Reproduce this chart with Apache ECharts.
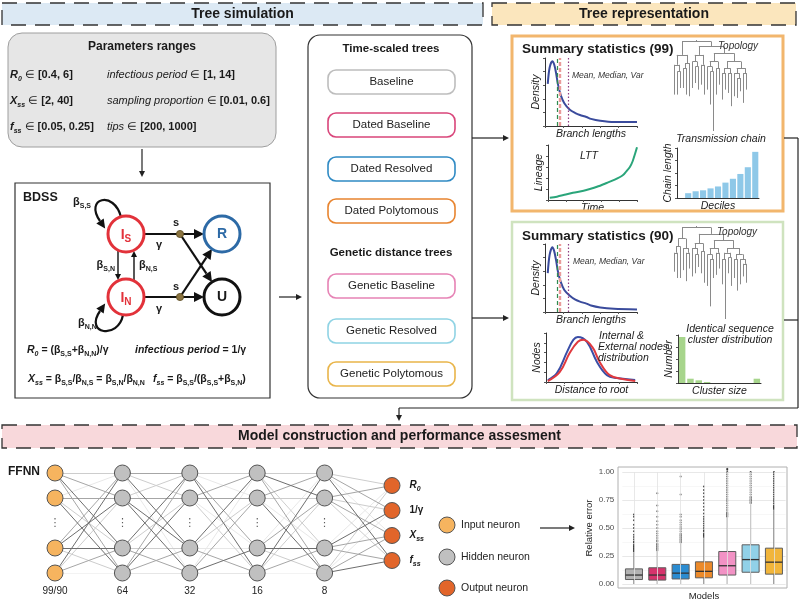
<!DOCTYPE html>
<html><head><meta charset="utf-8">
<script src="https://cdn.jsdelivr.net/npm/echarts@6/dist/echarts.min.js"></script>
<style>html,body{margin:0;padding:0;background:#fff}#c{width:800px;height:602px}</style>
</head><body><div id="c"></div>
<script>
// ================= DATA =================
const headerTitles = ['Tree simulation', 'Tree representation', 'Model construction and performance assesment'];
const paramRangesLeft = [['R', '0', '[0.4, 6]'], ['X', 'ss', '[2, 40]'], ['f', 'ss', '[0.05, 0.25]']];
const paramRangesRight = [['infectious period', '[1, 14]'], ['sampling proportion', '[0.01, 0.6]'], ['tips', '[200, 1000]']];
const timeScaledTrees = ['Baseline', 'Dated Baseline', 'Dated Resolved', 'Dated Polytomous'];
const geneticTrees = ['Genetic Baseline', 'Genetic Resolved', 'Genetic Polytomous'];

const branchLengthDensity99 = [[3,65],[5,90],[8,100],[10,95],[12,82],[14,65],[17,48],[21,35],[27,25],[33,20],[38,17],[45,14],[50,11],[60,8],[75,6],[100,6]];
const branchLengthDensity90 = [[3,60],[5,88],[8,100],[10,94],[12,80],[14,63],[17,47],[21,34],[27,25],[33,19],[38,16],[45,13],[50,10],[60,7],[75,5],[100,4]];
const branchStatMarkers = [13, 16, 25];
const lttCurve = [[2,4],[10,6],[20,10],[28,13],[40,17],[47,20],[55,24],[66,31],[75,37],[84,45],[88,52],[92,60],[95,70],[98,85],[100,96]];
const chainDeciles = ['0','1','2','3','4','5','6','7','8','9','10'];
const chainLength = [0, 5, 7, 8, 10, 12, 16, 20, 25, 32, 48];
const internalNodesDist = [[2,4],[12,18],[23,61],[30,86],[35,92],[45,82],[56,41],[67,14],[78,8],[98,4]];
const externalNodesDist = [[2,2],[15,20],[26,59],[35,82],[41,86],[51,71],[59,41],[70,14],[84,6],[98,2]];
const clusterSizes = ['1','2','3','4','5','6','7','8','9','10'];
const clusterCounts = [46, 4.3, 2.7, 1, 0, 0, 0, 0, 0, 4.3];
const topology99 = [1,
  [8, [6, 18, [4, 14, 10]], [5, [3, 12, 16], 20]],
  [3,
    [5, [4, 16, [3, 10, 14]], [6, 12, 18]],
    [4,
      [5, [3, 14, [3, 20, 36]], [4, 16, 10]],
      [5,
        [4, [3, 16, 10], [3, 12, 20]],
        [4, [3, 14, [3, 12, 8]], [3, 18, 10]]]]]];
const topology90 = [1,
  [7, [5, [4, 12, 16], 20], [6, 14, [3, 18, 10]]],
  [4,
    [6, [3, 18, [4, 12, 8]], [5, 14, 20]],
    [4,
      [5, [4, 20, [3, 30, 12]], [3, 14, 10]],
      [5,
        [3, [4, 16, 38], [3, 10, 18]],
        [4, [3, 12, 20], [3, 16, [3, 8, 12]]]]]]];

const nnLayerSizes = ['99/90', '64', '32', '16', '8'];
const nnHiddenRows = [0, 1, 3, 4];
const nnOutputRows = [0.5, 1.5, 2.5, 3.5];
const nnOutputs = ['R0', '1/γ', 'Xss', 'fss'];
const nnEdgeShades = ['1232021323313120', '2130123331122321', '1023220131020231', '1312210302313120', '1203212103221023'];
const legendItems = ['Input neuron', 'Hidden neuron', 'Output neuron'];

const modelNames = ['Baseline', 'Dated Baseline', 'Dated Resolved', 'Dated Polytomous', 'Genetic Baseline', 'Genetic Resolved', 'Genetic Polytomous'];
const boxStats = [
  [0, 0.04, 0.08, 0.135, 0.28],
  [0, 0.035, 0.08, 0.145, 0.29],
  [0, 0.045, 0.097, 0.175, 0.36],
  [0, 0.055, 0.113, 0.198, 0.41],
  [0, 0.08, 0.163, 0.29, 0.59],
  [0, 0.105, 0.218, 0.35, 0.71],
  [0, 0.088, 0.195, 0.32, 0.66]
];
const boxOutliers = [
  [0.29,0.3,0.31,0.32,0.33,0.34,0.35,0.37,0.38,0.4,0.42,0.44,0.47,0.5,0.53,0.57,0.6,0.62],
  [0.3,0.31,0.32,0.33,0.34,0.35,0.36,0.38,0.39,0.41,0.43,0.45,0.47,0.5,0.53,0.56,0.6,0.65,0.7,0.81],
  [0.37,0.38,0.39,0.4,0.41,0.42,0.43,0.44,0.45,0.47,0.49,0.51,0.53,0.55,0.57,0.6,0.62,0.8,0.96],
  [0.42,0.43,0.44,0.45,0.47,0.48,0.5,0.52,0.54,0.56,0.58,0.6,0.63,0.66,0.69,0.72,0.75,0.78,0.81,0.84,0.87],
  [0.6,0.61,0.62,0.63,0.64,0.66,0.68,0.7,0.72,0.74,0.76,0.78,0.8,0.82,0.84,0.86,0.88,0.9,0.92,0.94,0.96,0.98,1.0,1.02,1.03],
  [0.72,0.73,0.74,0.75,0.76,0.77,0.78,0.8,0.82,0.84,0.86,0.88,0.9,0.92,0.94,0.96,0.98,1.0],
  [0.67,0.68,0.69,0.7,0.72,0.74,0.76,0.78,0.8,0.82,0.84,0.86,0.88,0.9,0.92,0.94,0.96,0.98,1.0]
];

// ================= STYLE =================
const FF = '"Liberation Sans", Arial, Helvetica, sans-serif';
const TXT = '#1a1a1a';
const treeBoxColors = ['#bdbdbd', '#d9457a', '#2f8ac4', '#e8842f', '#e683b5', '#8fd3e4', '#e9b54a'];
const boxFill = ['#b3b3b3', '#d6336c', '#2b8cd1', '#ec8a2a', '#f292c5', '#91d1e8', '#f1b53b'];
const nnColors = { input: '#f6b45f', hidden: '#c0c0c0', output: '#e2652a' };
const shadeColors = ['#e8e8e8', '#cdcdcd', '#a6a6a6', '#6e6e6e'];

function rich(size, color) {
  color = color || TXT;
  const base = { fontFamily: FF, fontSize: size, color: color, fill: color, lineHeight: size + 4 };
  const sub = { fontFamily: FF, fontSize: Math.round(size * 0.68), color: color, fill: color, fontWeight: 'bold', verticalAlign: 'bottom', lineHeight: Math.round(size * 0.55) };
  return {
    n: Object.assign({}, base),
    b: Object.assign({}, base, { fontWeight: 'bold' }),
    i: Object.assign({}, base, { fontStyle: 'italic' }),
    bi: Object.assign({}, base, { fontWeight: 'bold', fontStyle: 'italic' }),
    s: sub,
    si: Object.assign({}, sub, { fontStyle: 'italic' })
  };
}

const G = [];
function txt(x, y, text, o) {
  o = o || {};
  G.push({ type: 'text', x: x, y: y, rotation: o.rot || 0, silent: true, z: 20,
    style: { text: text, fontFamily: FF, fontSize: o.size || 11, fontWeight: o.weight || 'normal',
      fontStyle: o.style || 'normal', fill: o.color || TXT, align: o.align || 'left',
      verticalAlign: 'middle', rich: o.rich } });
}
function rect(x, y, w, h, o) {
  G.push({ type: 'rect', silent: true, z: o.z || 1, shape: { x: x, y: y, width: w, height: h, r: o.r || 0 },
    style: { fill: o.fill || 'none', stroke: o.stroke || 'none', lineWidth: o.lw || 1, lineDash: o.dash } });
}
function line(x1, y1, x2, y2, color, lw) {
  G.push({ type: 'line', silent: true, z: 5, shape: { x1: x1, y1: y1, x2: x2, y2: y2 }, style: { stroke: color || '#111', lineWidth: lw || 1.2 } });
}
function head(x, y, a, hs, color) {
  const bx = x - hs * Math.cos(a), by = y - hs * Math.sin(a), w = hs * 0.5;
  G.push({ type: 'polygon', silent: true, z: 6, shape: { points: [[x, y], [bx - w * Math.sin(a), by + w * Math.cos(a)], [bx + w * Math.sin(a), by - w * Math.cos(a)]] }, style: { fill: color || '#111' } });
  return [bx, by];
}
function arrow(x1, y1, x2, y2, color, lw, hs) {
  hs = hs || 6;
  const a = Math.atan2(y2 - y1, x2 - x1);
  const b = head(x2, y2, a, hs, color);
  line(x1, y1, b[0], b[1], color, lw);
}
function loopArrow(p0, c1, c2, p1, hs, color, lw) {
  G.push({ type: 'bezierCurve', silent: true, z: 5, shape: { x1: p0[0], y1: p0[1], cpx1: c1[0], cpy1: c1[1], cpx2: c2[0], cpy2: c2[1], x2: p1[0], y2: p1[1] }, style: { stroke: color, lineWidth: lw, fill: 'none' } });
  const a = Math.atan2(p1[1] - c2[1], p1[0] - c2[0]);
  head(p1[0] + hs * Math.cos(a), p1[1] + hs * Math.sin(a), a, hs, color);
}
function circle(cx, cy, r, fill, stroke, lw) {
  G.push({ type: 'circle', silent: true, z: 7, shape: { cx: cx, cy: cy, r: r }, style: { fill: fill, stroke: stroke, lineWidth: lw } });
}

// ---------- headers ----------
const hdr = [[2, 3, 481, 22, '#dce9f4'], [492, 3, 304, 22, '#fbe6bd'], [2, 425, 795, 23, '#f8d8db']];
hdr.forEach(function (h, i) {
  rect(h[0], h[1], h[2], h[3], { fill: h[4], stroke: '#333', lw: 1.3, dash: [15, 9] });
  txt(h[0] + h[2] / 2, h[1] + h[3] / 2, headerTitles[i], { size: 14, weight: 'bold', align: 'center' });
});

// ---------- parameters box ----------
rect(8, 33, 268, 114, { fill: '#e6e6e6', stroke: '#9e9e9e', lw: 1, r: 14 });
txt(142, 47, 'Parameters ranges', { size: 12, weight: 'bold', align: 'center' });
const R11 = rich(11);
paramRangesLeft.forEach(function (p, i) {
  const y = 75 + i * 26;
  txt(10, y, '{bi|' + p[0] + '}{si|' + p[1] + '}{n| ∈ }{b|' + p[2] + '}', { rich: R11 });
  const q = paramRangesRight[i];
  txt(107, y, '{i|' + q[0] + '}{n| ∈ }{b|' + q[1] + '}', { rich: R11 });
});
arrow(142, 149, 142, 177, '#222', 1.2, 6);

// ---------- BDSS box ----------
rect(15, 183, 255, 215, { fill: '#fff', stroke: '#333', lw: 1.2 });
txt(23, 198, 'BDSS', { size: 12.5, weight: 'bold' });
const RED = '#e2323a', BLUE = '#2d6aa6';
arrow(144, 234, 204, 234, '#111', 2.2, 10);
arrow(144, 297, 204, 297, '#111', 2.2, 10);
arrow(180, 234, 212, 282, '#111', 2.2, 10);
arrow(180, 297, 212, 249, '#111', 2.2, 10);
arrow(118, 251, 118, 280, '#111', 1.4, 6);
arrow(134, 280, 134, 251, '#111', 1.4, 6);
loopArrow([121, 217], [114, 190], [84, 198], [100, 221], 9, '#111', 2.2);
loopArrow([123, 315], [118, 340], [84, 334], [100, 311], 9, '#111', 2.2);
circle(126, 234, 18, '#fff', RED, 3);
circle(126, 297, 18, '#fff', RED, 3);
circle(222, 234, 18, '#fff', BLUE, 3);
circle(222, 297, 18, '#fff', '#111', 3);
circle(180, 234, 3.6, '#8b7440', '#5a4a20', 0.8);
circle(180, 297, 3.6, '#8b7440', '#5a4a20', 0.8);
const R14r = rich(14, RED);
txt(126, 235, '{b|I}{s|S}', { rich: R14r, align: 'center' });
txt(126, 298, '{b|I}{s|N}', { rich: R14r, align: 'center' });
txt(222, 234, 'R', { size: 14, weight: 'bold', color: BLUE, align: 'center' });
txt(222, 297, 'U', { size: 14, weight: 'bold', align: 'center' });
txt(176, 223, 's', { size: 11, weight: 'bold', align: 'center' });
txt(176, 287, 's', { size: 11, weight: 'bold', align: 'center' });
txt(159, 245, 'γ', { size: 11, weight: 'bold', align: 'center' });
txt(159, 309, 'γ', { size: 11, weight: 'bold', align: 'center' });
txt(73, 202, '{b|β}{s|S,S}', { rich: R11 });
txt(78, 323, '{b|β}{s|N,N}', { rich: R11 });
txt(115, 265, '{b|β}{s|S,N}', { rich: R11, align: 'right' });
txt(139, 265, '{b|β}{s|N,S}', { rich: R11 });
const R10 = rich(10.5);
txt(27, 350, '{bi|R}{si|0}{b| = (β}{s|S,S}{b|+β}{s|N,N}{b|)/γ}', { rich: R10 });
txt(135, 350, '{bi|infectious period}{b| = 1/γ}', { rich: R10 });
txt(28, 379, '{bi|X}{si|ss}{b| = β}{s|S,S}{b|/β}{s|N,S}{b| = β}{s|S,N}{b|/β}{s|N,N}', { rich: R10 });
txt(153, 379, '{bi|f}{si|ss}{b| = β}{s|S,S}{b|/(β}{s|S,S}{b|+β}{s|S,N}{b|)}', { rich: R10 });
arrow(279, 297, 302, 297, '#222', 1.2, 6);

// ---------- middle box ----------
rect(308, 35, 164, 363, { fill: '#fff', stroke: '#333', lw: 1.2, r: 12 });
txt(391, 49, 'Time-scaled trees', { size: 11.5, weight: 'bold', align: 'center' });
txt(391, 253, 'Genetic distance trees', { size: 11.5, weight: 'bold', align: 'center' });
const treeBoxY = [82, 125, 169, 211, 286, 331, 374];
timeScaledTrees.concat(geneticTrees).forEach(function (name, i) {
  rect(328, treeBoxY[i] - 12, 127, 24, { fill: '#fff', stroke: treeBoxColors[i], lw: 1.6, r: 8, z: 2 });
  txt(391.5, treeBoxY[i], name, { size: 11.5, align: 'center', color: '#222' });
});
arrow(472, 138, 509, 138, '#222', 1.2, 6);
arrow(472, 318, 509, 318, '#222', 1.2, 6);

// ---------- summary boxes ----------
rect(512, 36, 271, 175, { stroke: '#f2b66d', lw: 3 });
rect(512, 222, 271, 178, { stroke: '#cfe3bf', lw: 2.5 });
txt(522, 49, 'Summary statistics (99)', { size: 13.5, weight: 'bold' });
txt(522, 236, 'Summary statistics (90)', { size: 13.5, weight: 'bold' });
txt(572, 76, 'Mean, Median, Var', { size: 8.5, style: 'italic', color: '#333' });
txt(573, 262, 'Mean, Median, Var', { size: 8.5, style: 'italic', color: '#333' });
txt(738, 46, 'Topology', { size: 10, style: 'italic', align: 'center', color: '#333' });
txt(737, 232, 'Topology', { size: 10, style: 'italic', align: 'center', color: '#333' });
txt(721, 139, 'Transmission chain', { size: 10.5, style: 'italic', align: 'center' });
txt(589, 156, 'LTT', { size: 10.5, style: 'italic', align: 'center' });
txt(599, 336, 'Internal &', { size: 10.5, style: 'italic' });
txt(598, 347, 'External nodes', { size: 10.5, style: 'italic' });
txt(598, 358, 'distribution', { size: 10.5, style: 'italic' });
txt(730, 329, 'Identical sequence', { size: 10.5, style: 'italic', align: 'center' });
txt(730, 340, 'cluster distribution', { size: 10.5, style: 'italic', align: 'center' });
line(784, 138, 798, 138, '#222', 1.2);
line(784, 320, 798, 320, '#222', 1.2);
line(798, 138, 798, 408, '#222', 1.2);
line(798, 408, 399, 408, '#222', 1.2);
arrow(399, 408, 399, 421, '#222', 1.2, 6);

// ---------- FFNN / legend ----------
txt(8, 472, 'FFNN', { size: 12, weight: 'bold' });
const legendColors = [nnColors.input, nnColors.hidden, nnColors.output];
legendItems.forEach(function (t, i) {
  const y = [525, 557, 588][i];
  circle(447, y, 8, legendColors[i], '#555', 1);
  txt(461, y, t, { size: 10.5, color: '#222' });
});
arrow(540, 528, 575, 528, '#222', 1.2, 6);
rect(618, 467, 169, 121, { stroke: '#b0b0b0', lw: 1, z: 3 });

// ================= TREE LAYOUT =================
function treeSegments(tree) {
  let leaf = 0, maxD = 0;
  const segs = [];
  function rec(node, pd) {
    const len = Array.isArray(node) ? node[0] : node;
    const d = pd + len;
    maxD = Math.max(maxD, d);
    let x;
    if (!Array.isArray(node)) { x = leaf++; }
    else {
      const xs = node.slice(1).map(function (c) { return rec(c, d); });
      x = (xs[0] + xs[xs.length - 1]) / 2;
      segs.push({ coords: [[xs[0], d], [xs[xs.length - 1], d]] });
    }
    segs.push({ coords: [[x, pd], [x, d]] });
    return x;
  }
  rec(tree, 0);
  return { segs: segs, n: leaf, maxD: maxD };
}
const t99 = treeSegments(topology99), t90 = treeSegments(topology90);

// ================= GRIDS / AXES =================
const grids = [
  { left: 622.3, top: 472, width: 163.3, height: 112 },
  { left: 545, top: 58, width: 92, height: 68 },
  { left: 548, top: 145, width: 89, height: 55 },
  { left: 677, top: 148, width: 82, height: 50 },
  { left: 545, top: 244, width: 92, height: 68 },
  { left: 546, top: 333, width: 91, height: 49 },
  { left: 678, top: 335, width: 83, height: 48 },
  { left: 673, top: 40, width: 75, height: 91 },
  { left: 673, top: 226, width: 75, height: 93 },
  { left: 55, top: 473, width: 337, height: 100 }
].map(function (g) { return Object.assign({ containLabel: false, outerBoundsMode: 'none' }, g); });

const AL = { show: true, lineStyle: { color: '#333', width: 1 } };
const nameStyle = { fontFamily: FF, fontStyle: 'italic', fontSize: 10.5, color: TXT };
function miniX(gi, name, cat) {
  const a = { gridIndex: gi, name: name, nameLocation: 'middle', nameGap: 3, nameTextStyle: nameStyle,
    axisLine: AL, axisLabel: { show: false }, splitLine: { show: false } };
  if (cat) { a.type = 'category'; a.data = cat; a.axisTick = { show: false }; }
  else { a.type = 'value'; a.min = 0; a.max = 100; a.interval = 20; a.axisTick = { show: true, length: 2, lineStyle: { color: '#555' } }; }
  return a;
}
function miniY(gi, name, max, interval) {
  return { type: 'value', gridIndex: gi, min: 0, max: max, interval: interval, name: name, nameLocation: 'middle', nameGap: 3,
    nameTextStyle: nameStyle, axisLine: AL, axisTick: { show: true, length: 2, lineStyle: { color: '#555' } },
    axisLabel: { show: false }, splitLine: { show: false } };
}
const xAxes = [
  { type: 'category', gridIndex: 0, data: modelNames, axisLine: { show: false }, axisTick: { show: false }, axisLabel: { show: false },
    splitLine: { show: false }, name: 'Models', nameLocation: 'middle', nameGap: 7, nameTextStyle: { fontFamily: FF, fontSize: 9.5, color: '#222' } },
  miniX(1, 'Branch lengths'),
  miniX(2, 'Time'),
  miniX(3, 'Deciles', chainDeciles),
  miniX(4, 'Branch lengths'),
  miniX(5, 'Distance to root'),
  miniX(6, 'Cluster size', clusterSizes),
  { type: 'value', gridIndex: 7, min: -0.5, max: t99.n - 0.5, show: false },
  { type: 'value', gridIndex: 8, min: -0.5, max: t90.n - 0.5, show: false },
  { type: 'value', gridIndex: 9, min: 0, max: 5, interval: 1, axisLine: { show: false, onZero: false }, axisTick: { show: false },
    splitLine: { show: false }, axisLabel: { fontFamily: FF, fontSize: 10, color: '#222', margin: 13, formatter: function (v) { return nnLayerSizes[v] || ''; } } }
];
const yAxes = [
  { type: 'value', gridIndex: 0, min: 0, max: 1, interval: 0.25, axisLine: { show: false }, axisTick: { show: false },
    axisLabel: { fontFamily: FF, fontSize: 8, color: '#4d4d4d', margin: 8, formatter: function (v) { return v.toFixed(2); } },
    splitLine: { lineStyle: { color: '#e2e2e2', width: 0.8 } },
    minorTick: { show: false, splitNumber: 2 }, minorSplitLine: { show: true, lineStyle: { color: '#f1f1f1', width: 0.6 } },
    name: 'Relative error', nameLocation: 'middle', nameGap: 28, nameTextStyle: { fontFamily: FF, fontSize: 9.5, color: '#222' } },
  miniY(1, 'Density', 105, 21),
  miniY(2, 'Lineage', 100, 20),
  miniY(3, 'Chain length', 52, 13),
  miniY(4, 'Density', 105, 21),
  miniY(5, 'Nodes', 100, 20),
  miniY(6, 'Number', 48, 12),
  { type: 'value', gridIndex: 7, min: 0, max: t99.maxD, inverse: true, show: false },
  { type: 'value', gridIndex: 8, min: 0, max: t90.maxD, inverse: true, show: false },
  { type: 'value', gridIndex: 9, min: 0, max: 4, inverse: true, show: false }
];

// ================= SERIES =================
const series = [];
series.push({ type: 'scatter', xAxisIndex: 0, yAxisIndex: 0, clip: false, z: 2, symbolSize: 2, silent: true,
  itemStyle: { color: '#222' },
  data: boxOutliers.reduce(function (acc, arr, i) { return acc.concat(arr.map(function (v) { return [i, v]; })); }, []),
  markLine: { silent: true, symbol: 'none', label: { show: false }, animation: false,
    lineStyle: { color: '#e2e2e2', type: 'solid', width: 0.8 }, data: modelNames.map(function (n) { return { xAxis: n }; }) } });
series.push({ type: 'custom', xAxisIndex: 0, yAxisIndex: 0, z: 3, silent: true,
  encode: { x: 0, y: [1, 2, 3, 4, 5] },
  data: boxStats.map(function (s, i) { return [i].concat(s); }),
  renderItem: function (params, api) {
    const i = api.value(0);
    const cx = api.coord([i, 0])[0];
    const y = [1, 2, 3, 4, 5].map(function (k) { return api.coord([i, api.value(k)])[1]; });
    const w = api.size([1, 0])[0] * 0.73;
    const st = { stroke: '#5e5e5e', lineWidth: 1 };
    return { type: 'group', children: [
      { type: 'line', shape: { x1: cx, y1: y[3], x2: cx, y2: y[4] }, style: st },
      { type: 'line', shape: { x1: cx, y1: y[1], x2: cx, y2: y[0] }, style: st },
      { type: 'rect', shape: { x: cx - w / 2, y: y[3], width: w, height: y[1] - y[3] }, style: { fill: boxFill[params.dataIndex], stroke: '#5e5e5e', lineWidth: 1 } },
      { type: 'line', shape: { x1: cx - w / 2, y1: y[2], x2: cx + w / 2, y2: y[2] }, style: { stroke: '#333', lineWidth: 1.3 } }
    ] };
  } });

function densitySeries(gi, data) {
  return { type: 'line', xAxisIndex: gi, yAxisIndex: gi, data: data, smooth: 0.3, showSymbol: false, silent: true,
    lineStyle: { color: '#3a4b9c', width: 2 },
    markLine: { silent: true, symbol: 'none', label: { show: false }, animation: false, data: [
      { xAxis: branchStatMarkers[0], lineStyle: { color: '#2e8b4e', type: [4, 3], width: 1.2 } },
      { xAxis: branchStatMarkers[1], lineStyle: { color: '#e99a9a', type: [4, 2], width: 2.4 } },
      { xAxis: branchStatMarkers[2], lineStyle: { color: '#8e3d80', type: [1.5, 2], width: 1.2 } }] } };
}
series.push(densitySeries(1, branchLengthDensity99));
series.push(densitySeries(4, branchLengthDensity90));
series.push({ type: 'line', xAxisIndex: 2, yAxisIndex: 2, data: lttCurve, smooth: 0.3, showSymbol: false, silent: true, lineStyle: { color: '#2aa57a', width: 2 } });
series.push({ type: 'bar', xAxisIndex: 3, yAxisIndex: 3, data: chainLength, barCategoryGap: '18%', silent: true, itemStyle: { color: '#8ec8e8' } });
series.push({ type: 'line', xAxisIndex: 5, yAxisIndex: 5, data: internalNodesDist, smooth: 0.4, showSymbol: false, silent: true, lineStyle: { color: '#3a4ea6', width: 2 } });
series.push({ type: 'line', xAxisIndex: 5, yAxisIndex: 5, data: externalNodesDist, smooth: 0.4, showSymbol: false, silent: true, lineStyle: { color: '#e0393e', width: 2 } });
series.push({ type: 'bar', xAxisIndex: 6, yAxisIndex: 6, data: clusterCounts, barCategoryGap: '22%', silent: true, itemStyle: { color: '#a7d58c' } });
series.push({ type: 'lines', coordinateSystem: 'cartesian2d', xAxisIndex: 7, yAxisIndex: 7, silent: true, data: t99.segs, lineStyle: { color: '#8a8a8a', width: 1, opacity: 1 } });
series.push({ type: 'lines', coordinateSystem: 'cartesian2d', xAxisIndex: 8, yAxisIndex: 8, silent: true, data: t90.segs, lineStyle: { color: '#8a8a8a', width: 1, opacity: 1 } });

const nnEdges = [];
for (let l = 0; l < 5; l++) {
  const toRows = l === 4 ? nnOutputRows : nnHiddenRows;
  for (let a = 0; a < 4; a++) for (let b = 0; b < 4; b++) {
    const s = +nnEdgeShades[l][a * 4 + b];
    nnEdges.push({ coords: [[l, nnHiddenRows[a]], [l + 1, toRows[b]]], lineStyle: { color: shadeColors[s] }, s: s });
  }
}
nnEdges.sort(function (p, q) { return p.s - q.s; });
series.push({ type: 'lines', coordinateSystem: 'cartesian2d', xAxisIndex: 9, yAxisIndex: 9, silent: true, z: 2, data: nnEdges, lineStyle: { width: 1, opacity: 1 } });
const nnNodes = [];
for (let l = 0; l < 5; l++) nnHiddenRows.forEach(function (r) {
  nnNodes.push({ value: [l, r], itemStyle: { color: l === 0 ? nnColors.input : nnColors.hidden } });
});
const R10o = rich(10);
nnOutputRows.forEach(function (r, i) {
  const m = nnOutputs[i].match(/^([A-Za-z])(0|ss)$/);
  const lab = m ? '{bi|' + m[1] + '}{si|' + m[2] + '}' : '{b|' + nnOutputs[i] + '}';
  nnNodes.push({ value: [5, r], itemStyle: { color: nnColors.output },
    label: { show: true, position: 'right', distance: 9, formatter: lab, rich: R10o } });
});
series.push({ type: 'scatter', xAxisIndex: 9, yAxisIndex: 9, clip: false, z: 4, silent: true, symbolSize: 16,
  itemStyle: { borderColor: '#555', borderWidth: 1, opacity: 1 }, data: nnNodes });
series.push({ type: 'scatter', xAxisIndex: 9, yAxisIndex: 9, clip: false, z: 4, silent: true, symbolSize: 1,
  itemStyle: { color: 'transparent' },
  label: { show: true, position: 'inside', formatter: '⋮', fontSize: 11, color: '#333', fontFamily: 'DejaVu Sans' },
  data: [0, 1, 2, 3, 4].map(function (l) { return [l, 2]; }) });

const chart = echarts.init(document.getElementById('c'), null, { renderer: 'canvas', width: 800, height: 602 });
chart.setOption({
  animation: false,
  backgroundColor: '#fff',
  textStyle: { fontFamily: FF },
  grid: grids,
  xAxis: xAxes,
  yAxis: yAxes,
  series: series,
  graphic: { elements: G }
});
</script></body></html>
